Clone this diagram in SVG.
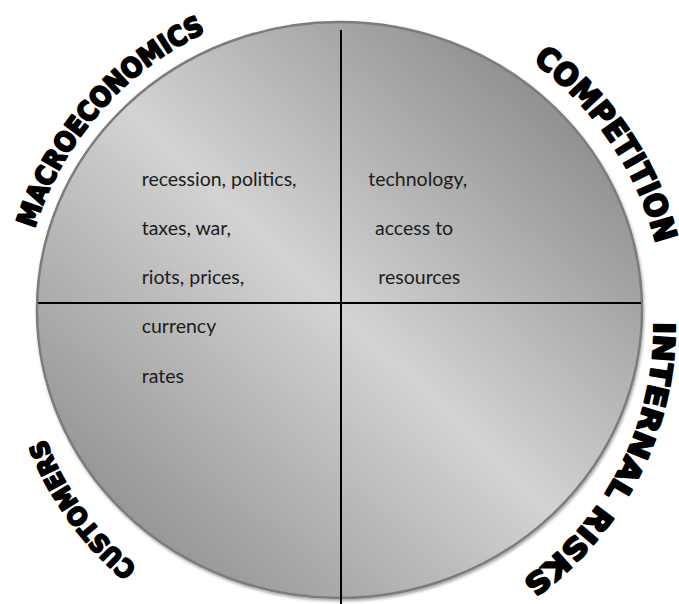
<svg xmlns="http://www.w3.org/2000/svg" xmlns:xlink="http://www.w3.org/1999/xlink" width="679" height="604" viewBox="0 0 679 604">
  <style>
    .item { font-family: Lato, "Open Sans", "Liberation Sans", sans-serif; font-size: 19.5px; fill: #1c1c1c; }
    .arc-label { font-family: "DejaVu Sans", "Liberation Sans", sans-serif; font-weight: bold; fill: #000; stroke: #000; stroke-width: 2.1; stroke-linejoin: round; }
    .divider { stroke: #000; stroke-width: 2; fill: none; }
  </style>
  <defs>
    <linearGradient id="discFill" x1="1" y1="0" x2="0" y2="1">
      <stop offset="0" stop-color="#767676"/>
      <stop offset="0.5" stop-color="#d3d3d3"/>
      <stop offset="1" stop-color="#7e7e7e"/>
    </linearGradient>
    <filter id="rimShadow" x="-5%" y="-5%" width="110%" height="110%">
      <feGaussianBlur in="SourceAlpha" stdDeviation="1.5"/>
      <feOffset dx="1" dy="2" result="b"/>
      <feFlood flood-color="#000" flood-opacity="0.35"/>
      <feComposite in2="b" operator="in"/>
      <feMerge>
        <feMergeNode/>
        <feMergeNode in="SourceGraphic"/>
      </feMerge>
    </filter>
    <!-- baseline arcs for the curved headings, all around (340,325) -->
    <path id="arcMacro" d="M 34.5 228.7 A 322 322 0 0 1 220 26"/>
    <path id="arcCompetition" d="M 532.8 61.5 A 326.5 326.5 0 0 1 666.5 325"/>
    <path id="arcInternal" d="M 654 322 A 314 314 0 0 1 497 597"/>
    <path id="arcCustomers" d="M 137.3 567.4 A 316 316 0 0 1 34.8 406.8"/>
  </defs>

  <rect width="679" height="604" fill="#fff"/>

  <!-- the disc -->
  <g id="disc">
    <ellipse cx="339.5" cy="310" rx="302.5" ry="288" fill="url(#discFill)" stroke="#7c7c7c" stroke-width="2.5" filter="url(#rimShadow)"/>
  </g>

  <!-- quadrant dividers -->
  <g id="connectors">
    <line class="divider" x1="341" y1="30" x2="341" y2="604"/>
    <line class="divider" x1="38" y1="303" x2="641" y2="303"/>
  </g>

  <g id="macroeconomics">
    <text class="arc-label" font-size="27"><textPath xlink:href="#arcMacro" href="#arcMacro" textLength="268" lengthAdjust="spacingAndGlyphs">MACROECONOMICS</textPath></text>
    <text class="item" x="141.7" y="185.5">recession, politics,</text>
    <text class="item" x="141.7" y="234.8">taxes, war,</text>
    <text class="item" x="141.7" y="284">riots, prices,</text>
    <text class="item" x="141.7" y="333.3">currency</text>
    <text class="item" x="141.7" y="382.6">rates</text>
  </g>

  <g id="competition">
    <text class="arc-label" font-size="31"><textPath xlink:href="#arcCompetition" href="#arcCompetition" textLength="224.5" lengthAdjust="spacingAndGlyphs">COMPETITION</textPath></text>
    <text class="item" x="368.3" y="185.5">technology,</text>
    <text class="item" x="375" y="234.8">access to</text>
    <text class="item" x="378.3" y="284">resources</text>
  </g>

  <g id="internal-risks">
    <text class="arc-label" font-size="29"><textPath xlink:href="#arcInternal" href="#arcInternal" textLength="302" lengthAdjust="spacingAndGlyphs">INTERNAL RISKS</textPath></text>
  </g>

  <g id="customers">
    <text class="arc-label" font-size="25"><textPath xlink:href="#arcCustomers" href="#arcCustomers" textLength="160" lengthAdjust="spacingAndGlyphs">CUSTOMERS</textPath></text>
  </g>
</svg>
